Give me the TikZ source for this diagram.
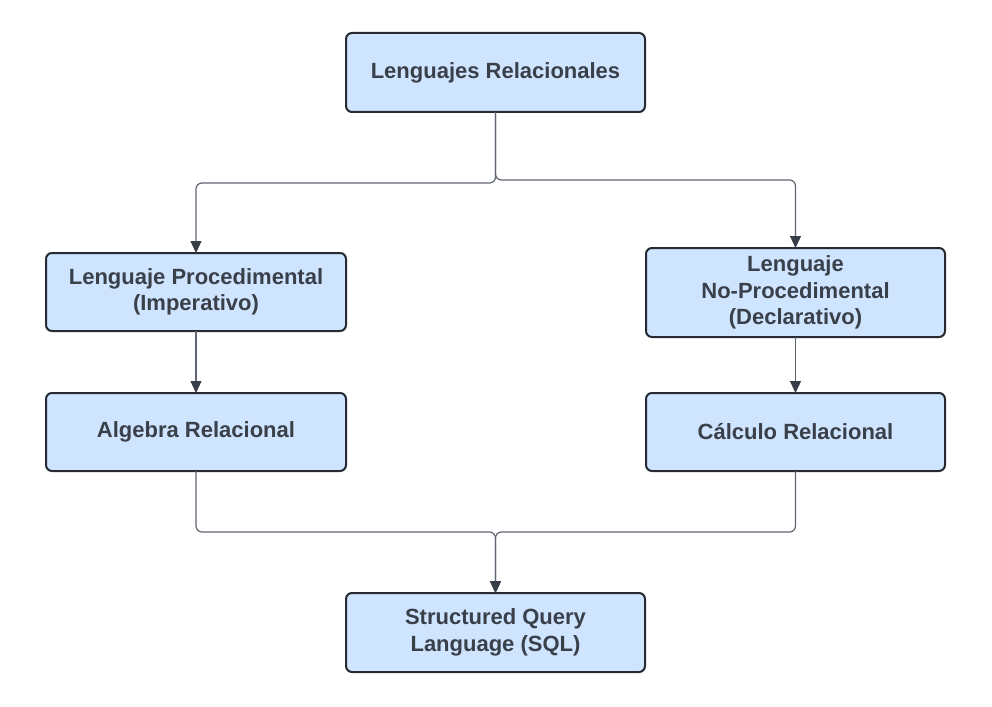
\documentclass[tikz,border=0pt]{standalone}
\usepackage{fontspec}
\setmainfont{Liberation Sans}
\usetikzlibrary{arrows.meta}
\definecolor{boxfill}{HTML}{CFE4FF}
\definecolor{boxline}{HTML}{262A31}
\definecolor{txt}{HTML}{3A404A}
\definecolor{conncol}{HTML}{5F6570}
\definecolor{tipcol}{HTML}{383E48}
\tikzset{
  box/.style={draw=boxline, line width=2pt, fill=boxfill, rounded corners=6pt,
    align=center, text=txt, font=\fontsize{22}{26.5}\selectfont\bfseries,
    inner sep=0pt, outer sep=0pt},
  conn/.style={draw=conncol, line width=1.2pt, rounded corners=6pt},
  arr/.style={conn, -{Triangle[length=12pt,width=11pt,color=tipcol]}},
}
\begin{document}
\begin{tikzpicture}[x=1pt,y=-1pt]
\useasboundingbox (0,0) rectangle (992,706);
\node[box, minimum width=299pt, minimum height=79pt] (top) at (495.5,72.5) {Lenguajes Relacionales};
\node[box, minimum width=300pt, minimum height=78pt] (l1) at (196,292) {Lenguaje Procedimental\\(Imperativo)};
\node[box, minimum width=299pt, minimum height=89pt] (r1) at (795.5,292.5) {Lenguaje\\No-Procedimental\\(Declarativo)};
\node[box, minimum width=300pt, minimum height=78pt] (l2) at (196,432) {Algebra Relacional};
\node[box, minimum width=299pt, minimum height=78pt] (r2) at (795.5,432) {Cálculo Relacional};
\node[box, minimum width=299pt, minimum height=79pt] (bot) at (495.5,632.5) {Structured Query\\Language (SQL)};
\coordinate (jl) at (495.5,183);
\coordinate (jr) at (495.5,180);
\coordinate (jb) at (495.5,532);
\draw[arr] (top.south) -- (jl) -| (l1.north);
\draw[arr] (top.south) -- (jr) -| (r1.north);
\draw[arr] (l1.south) -- (l2.north);
\draw[arr] (r1.south) -- (r2.north);
\draw[arr] (l2.south) |- (jb) -- (bot.north);
\draw[arr] (r2.south) |- (jb) -- (bot.north);
\end{tikzpicture}
\end{document}
